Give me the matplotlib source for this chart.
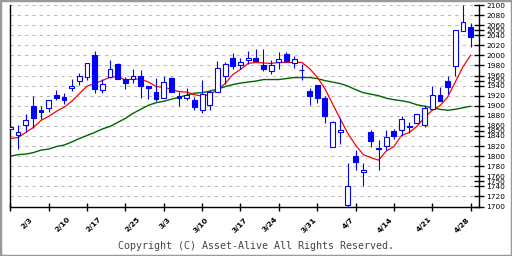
import matplotlib.pyplot as plt
import numpy as np
import pandas as pd
from matplotlib.patches import Rectangle

# Trading days (Tokyo holidays removed)
holidays = ['2025-02-11', '2025-02-24', '2025-03-20']
dates = pd.bdate_range('2025-01-29', '2025-04-28')
dates = dates[~dates.isin(pd.to_datetime(holidays))]

# OHLC
opens = [1854, 1842, 1862, 1899, 1891, 1896, 1922, 1917, 1935, 1949,
         1958, 2000, 1932, 1957, 1983, 1954, 1954, 1960, 1940, 1928,
         1916, 1956, 1920, 1916, 1912, 1892, 1902, 1928, 1960, 1994,
         1980, 1990, 1994, 1980, 1969, 1987, 2003, 1984, 1971, 1930,
         1942, 1915, 1819, 1847, 1703, 1800, 1768, 1848, 1816, 1820,
         1850, 1852, 1860, 1866, 1862, 1894, 1922, 1949, 1978, 2048,
         2056]
highs = [1858, 1861, 1884, 1919, 1899, 1912, 1931, 1925, 1954, 1966,
         1984, 2009, 1954, 1991, 1984, 1957, 1973, 1970, 1940, 1955,
         1959, 1958, 1928, 1936, 1917, 1952, 1932, 1988, 1986, 2004,
         1994, 2008, 2012, 2012, 1990, 2006, 2006, 1999, 1983, 1935,
         1942, 1919, 1869, 1875, 1786, 1812, 1786, 1852, 1832, 1852,
         1854, 1880, 1868, 1884, 1902, 1940, 1938, 1960, 2050, 2100,
         2064]
lows = [1854, 1814, 1847, 1856, 1874, 1887, 1911, 1903, 1930, 1941,
        1952, 1926, 1925, 1956, 1954, 1933, 1946, 1916, 1914, 1909,
        1916, 1928, 1899, 1911, 1891, 1885, 1891, 1928, 1944, 1972,
        1972, 1982, 1989, 1968, 1964, 1972, 1987, 1975, 1951, 1901,
        1905, 1865, 1819, 1825, 1700, 1773, 1741, 1818, 1773, 1812,
        1834, 1840, 1846, 1866, 1858, 1894, 1910, 1923, 1959, 2048,
        2016]
closes = [1858, 1848, 1871, 1875, 1887, 1912, 1915, 1911, 1940, 1960,
          1984, 1933, 1944, 1972, 1954, 1946, 1960, 1940, 1936, 1913,
          1948, 1928, 1915, 1922, 1897, 1924, 1928, 1974, 1982, 1979,
          1986, 1994, 1989, 1972, 1980, 1992, 1989, 1992, 1970, 1919,
          1915, 1879, 1868, 1852, 1740, 1789, 1772, 1831, 1815, 1838,
          1839, 1874, 1857, 1884, 1896, 1922, 1910, 1938, 2050, 2066,
          2036]

# moving averages
ma_short = [1835, 1837, 1847, 1857, 1871, 1879, 1889, 1897, 1909, 1924,
            1939, 1944, 1950, 1957, 1958, 1951, 1953, 1953, 1947, 1938,
            1937, 1932, 1928, 1927, 1922, 1919, 1922, 1932, 1944, 1962,
            1972, 1984, 1986, 1985, 1984, 1986, 1986, 1986, 1986, 1974,
            1957, 1934, 1904, 1874, 1845, 1822, 1803, 1797, 1792, 1810,
            1819, 1841, 1847, 1859, 1877, 1891, 1900, 1917, 1947, 1977,
            2000]
ma_long = [1800, 1803, 1804, 1807, 1812, 1814, 1819, 1822, 1828, 1835,
           1841, 1847, 1854, 1859, 1867, 1875, 1885, 1893, 1901, 1906,
           1909, 1913, 1917, 1921, 1925, 1926, 1929, 1933, 1938, 1942,
           1945, 1947, 1949, 1952, 1952, 1952, 1954, 1956, 1956, 1956,
           1954, 1950, 1947, 1944, 1939, 1932, 1926, 1923, 1920, 1915,
           1912, 1910, 1907, 1902, 1899, 1896, 1893, 1891, 1893, 1896,
           1899]

week_labels = ['2/3', '2/10', '2/17', '2/25', '3/3', '3/10', '3/17',
               '3/24', '3/31', '4/7', '4/14', '4/21', '4/28']
y_labels_extra = [1750, 1850, 1950, 2050]

fig = plt.figure(figsize=(5.12, 2.56), dpi=100)
ax = fig.add_axes([10 / 512, 1 - 206.5 / 256, 469 / 512, 201.5 / 256])

x = np.arange(len(dates))
o = np.array(opens)
c = np.array(closes)
up = c >= o

ax.plot(x, ma_long, color='#006400', lw=1.0, zorder=2)
ax.plot(x, ma_short, color='#ff0000', lw=0.9, zorder=2)

ax.vlines(x, lows, highs, color='#0000ff', lw=0.8, zorder=3)
body = np.maximum(np.abs(c - o), 0.6)
ax.bar(x[up], body[up], bottom=o[up], width=0.62, facecolor='white',
       edgecolor='#0000ff', linewidth=0.8, zorder=4)
ax.bar(x[~up], body[~up], bottom=c[~up], width=0.62, facecolor='#0000ff',
       edgecolor='#0000ff', linewidth=0.8, zorder=4)

ax.set_xlim(-0.05, len(dates) - 1 + 1.1)
ax.set_ylim(1700, 2100)

# x axis: tick marks every 5 bars, date labels at start of each week
ax.xaxis.remove_overlapping_locs = False
ax.set_xticks(np.arange(0, len(dates), 5))
ax.set_xticklabels([])
date_str = [f'{d.month}/{d.day}' for d in dates]
ax.set_xticks([date_str.index(s) for s in week_labels], minor=True)
ax.set_xticklabels(week_labels, minor=True, rotation=45, ha='right',
                   va='top', fontsize=5.4, fontweight='bold')
ax.tick_params(axis='x', which='major', direction='inout', length=6,
               width=1)
ax.tick_params(axis='x', which='minor', length=0, pad=7)

# y axis on the right
ax.yaxis.tick_right()
ax.set_yticks(np.arange(1700, 2101, 20))
ax.set_yticks(y_labels_extra, minor=True)
ax.set_yticklabels(y_labels_extra, minor=True)
ax.tick_params(axis='y', which='both', direction='inout', length=7,
               width=1, labelsize=5.3, pad=2)

ax.grid(axis='y', which='major', color='#b8b8b8',
        linestyle=(0, (3, 4)), linewidth=0.75)
ax.spines['top'].set_visible(False)
for s in ['left', 'bottom', 'right']:
    ax.spines[s].set_linewidth(1)

fig.text(0.5, 1 - 246 / 256, 'Copyright (C) Asset-Alive All Rights Reserved.',
         ha='center', va='center', family='DejaVu Sans Mono', fontsize=7.2,
         color='#444444')

fig.patches.append(Rectangle((0, 0), 1, 1, transform=fig.transFigure,
                             fill=False, edgecolor='#999999', linewidth=2.5))

fig.savefig('out.png', dpi=100)
